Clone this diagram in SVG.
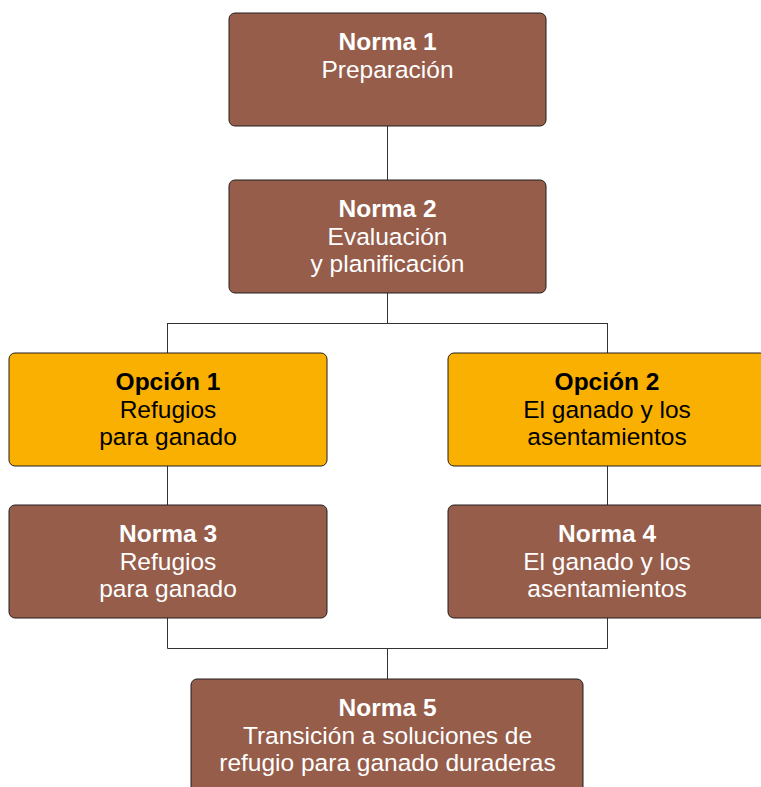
<svg xmlns="http://www.w3.org/2000/svg" width="761" height="787" viewBox="0 0 761 787">
<style>
.b{fill:#955d4a;stroke:#231f20;stroke-width:1}
.o{fill:#f9b000;stroke:#231f20;stroke-width:1}
text{font-family:"Liberation Sans",Arial,sans-serif;font-size:24.5px;text-anchor:middle}
.w{fill:#ffffff}
.k{fill:#000000}
.t{font-weight:bold}
.c{fill:none;stroke:#333333;stroke-width:1}
</style>
<rect width="761" height="787" fill="#ffffff"/>
<g id="connectors">
<path class="c" d="M387.5 126V180M387.5 293V323.5M167.5 323.5H607.5M167.5 323V353M607.5 323V353M167.5 466V505M607.5 466V505M167.5 618V648.5H607.5V618M387.5 648V679"/>
</g>
<g id="norma1">
<rect class="b" x="229" y="13" width="317" height="113" rx="6"/>
<text class="w"><tspan class="t" x="387.5" y="50">Norma 1</tspan><tspan x="387.5" y="78">Preparación</tspan></text>
</g>
<g id="norma2">
<rect class="b" x="229" y="180" width="317" height="113" rx="6"/>
<text class="w"><tspan class="t" x="387.5" y="217">Norma 2</tspan><tspan x="387.5" y="245">Evaluación</tspan><tspan x="387.5" y="272">y planificación</tspan></text>
</g>
<g id="opcion1">
<rect class="o" x="9" y="353" width="318" height="113" rx="6"/>
<text class="k"><tspan class="t" x="168" y="390">Opción 1</tspan><tspan x="168" y="418">Refugios</tspan><tspan x="168" y="445">para ganado</tspan></text>
</g>
<g id="opcion2">
<rect class="o" x="448" y="353" width="318" height="113" rx="6"/>
<text class="k"><tspan class="t" x="607" y="390">Opción 2</tspan><tspan x="607" y="418">El ganado y los</tspan><tspan x="607" y="445">asentamientos</tspan></text>
</g>
<g id="norma3">
<rect class="b" x="9" y="505" width="318" height="113" rx="6"/>
<text class="w"><tspan class="t" x="168" y="542">Norma 3</tspan><tspan x="168" y="570">Refugios</tspan><tspan x="168" y="597">para ganado</tspan></text>
</g>
<g id="norma4">
<rect class="b" x="448" y="505" width="318" height="113" rx="6"/>
<text class="w"><tspan class="t" x="607" y="542">Norma 4</tspan><tspan x="607" y="570">El ganado y los</tspan><tspan x="607" y="597">asentamientos</tspan></text>
</g>
<g id="norma5">
<rect class="b" x="191" y="679" width="392" height="125" rx="6"/>
<text class="w"><tspan class="t" x="387.5" y="716">Norma 5</tspan><tspan x="387.5" y="744">Transición a soluciones de</tspan><tspan x="387.5" y="771">refugio para ganado duraderas</tspan></text>
</g>
</svg>
